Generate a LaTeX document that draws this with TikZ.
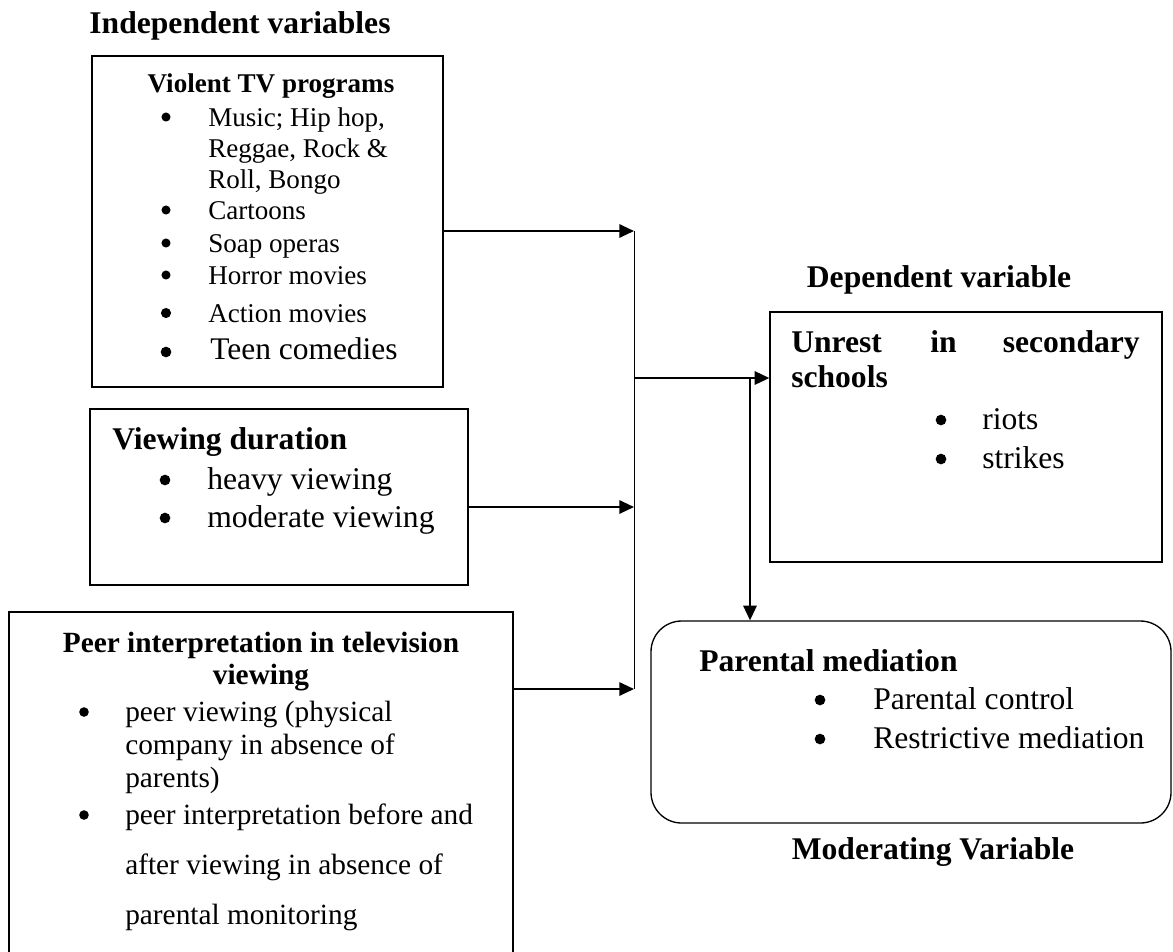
\documentclass[tikz,border=0pt]{standalone}
\usepackage{fontspec}
\setmainfont{Liberation Serif}
\usetikzlibrary{arrows.meta,fit}
\newcommand\smallfs{\fontsize{20.3}{23.3}\selectfont}
\newcommand\peerfs{\fontsize{22}{25}\selectfont}
\newcommand\bigfs{\fontsize{23.7}{27}\selectfont}

\begin{document}
\begin{tikzpicture}[x=0.75pt,y=-0.75pt,
  box/.style={draw,line width=1pt,inner sep=0pt},
  arr/.style={-{Triangle[length=11pt,width=10pt]},line width=1.5pt},
  txt/.style={anchor=mid west,inner sep=0pt,yshift=-4.5pt},
  ctxt/.style={txt,anchor=mid},
  etxt/.style={txt,anchor=mid east},
  head/.style={anchor=base,inner sep=0pt,font=\bigfs\bfseries}]
\useasboundingbox (0,0) rectangle (1173,951);
% boxes
\node[box,fit={(92,56) (443,387)}] (prog) {};
\node[box,fit={(90,409) (468,585)}] (dur) {};
\node[box,fit={(9,612) (513,960)}] (peer) {};
\node[box,fit={(770,312) (1162,562)}] (unrest) {};
\node[box,rounded corners=23pt,fit={(651,621) (1171,823)}] (med) {};
% headings
\node[head] (indep) at (240,33) {Independent variables};
\node[head] (dep) at (939,287) {Dependent variable};
\node[head] (mod) at (933,859) {Moderating Variable};
% violent programs
\node[ctxt,font=\smallfs\bfseries] (progtitle) at (271,83) {Violent TV programs};
\fill (166,117) circle (3.4pt); \node[txt,font=\smallfs] at (208,117) {Music; Hip hop,};
\node[txt,font=\smallfs] at (208,148) {Reggae, Rock \&};
\node[txt,font=\smallfs] at (208,179) {Roll, Bongo};
\fill (166,210) circle (3.4pt); \node[txt,font=\smallfs] at (208,210) {Cartoons};
\fill (166,243) circle (3.4pt); \node[txt,font=\smallfs] at (208,243) {Soap operas};
\fill (166,275) circle (3.4pt); \node[txt,font=\smallfs] at (208,275) {Horror movies};
\fill (166,313) circle (3.8pt); \node[txt,font=\smallfs] at (208,313) {Action movies};
\fill (166,352) circle (4pt); \node[txt,font=\fontsize{23.6}{27}\selectfont] at (210,350) {Teen comedies};
% viewing duration
\node[txt,font=\bigfs\bfseries] (durtitle) at (112,440) {Viewing duration};
\fill (165,480) circle (4pt); \node[txt,font=\bigfs] at (207,480) {heavy viewing};
\fill (165,518) circle (4pt); \node[txt,font=\bigfs] at (207,518) {moderate viewing};
% peer interpretation
\node[ctxt,font=\peerfs\bfseries] (peertitle) at (261,643) {Peer interpretation in television};
\node[ctxt,font=\peerfs\bfseries] at (261,675) {viewing};
\fill (84,712) circle (3.6pt); \node[txt,font=\peerfs] at (125,712) {peer viewing (physical};
\node[txt,font=\peerfs] at (125,745) {company in absence of};
\node[txt,font=\peerfs] at (125,778) {parents)};
\fill (84,815) circle (3.6pt); \node[txt,font=\peerfs] at (125,815) {peer interpretation before and};
\node[txt,font=\peerfs] at (125,865) {after viewing in absence of};
\node[txt,font=\peerfs] at (125,915) {parental monitoring};
% unrest
\node[txt,font=\bigfs\bfseries] (unresttitle) at (791,343) {Unrest};
\node[txt,font=\bigfs\bfseries] at (930,343) {in};
\node[etxt,font=\bigfs\bfseries] at (1140,343) {secondary};
\node[txt,font=\bigfs\bfseries] at (791,378) {schools};
\fill (941,420) circle (4pt); \node[txt,font=\bigfs] at (982,420) {riots};
\fill (941,459) circle (4pt); \node[txt,font=\bigfs] at (982,459) {strikes};
% parental mediation
\node[txt,font=\bigfs\bfseries] (medtitle) at (699,662) {Parental mediation};
\fill (820,700) circle (4pt); \node[txt,font=\bigfs] at (873,700) {Parental control};
\fill (820,739) circle (4pt); \node[txt,font=\bigfs] at (873,739) {Restrictive mediation};
% connectors
\coordinate (in1) at (634,231);
\coordinate (in2) at (634,507);
\coordinate (in3) at (634,689);
\coordinate (out) at (634,378);
\coordinate (split) at (750,378);
\draw[line width=0.7pt] (in1) -- (in3);
\draw[arr] (prog.east |- in1) -- (in1);
\draw[arr] (dur.east |- in2) -- (in2);
\draw[arr] (peer.east |- in3) -- (in3);
\draw[arr] (out) -- (unrest.west |- out);
\draw[arr] (split) -- (split |- med.north);
\end{tikzpicture}
\end{document}
